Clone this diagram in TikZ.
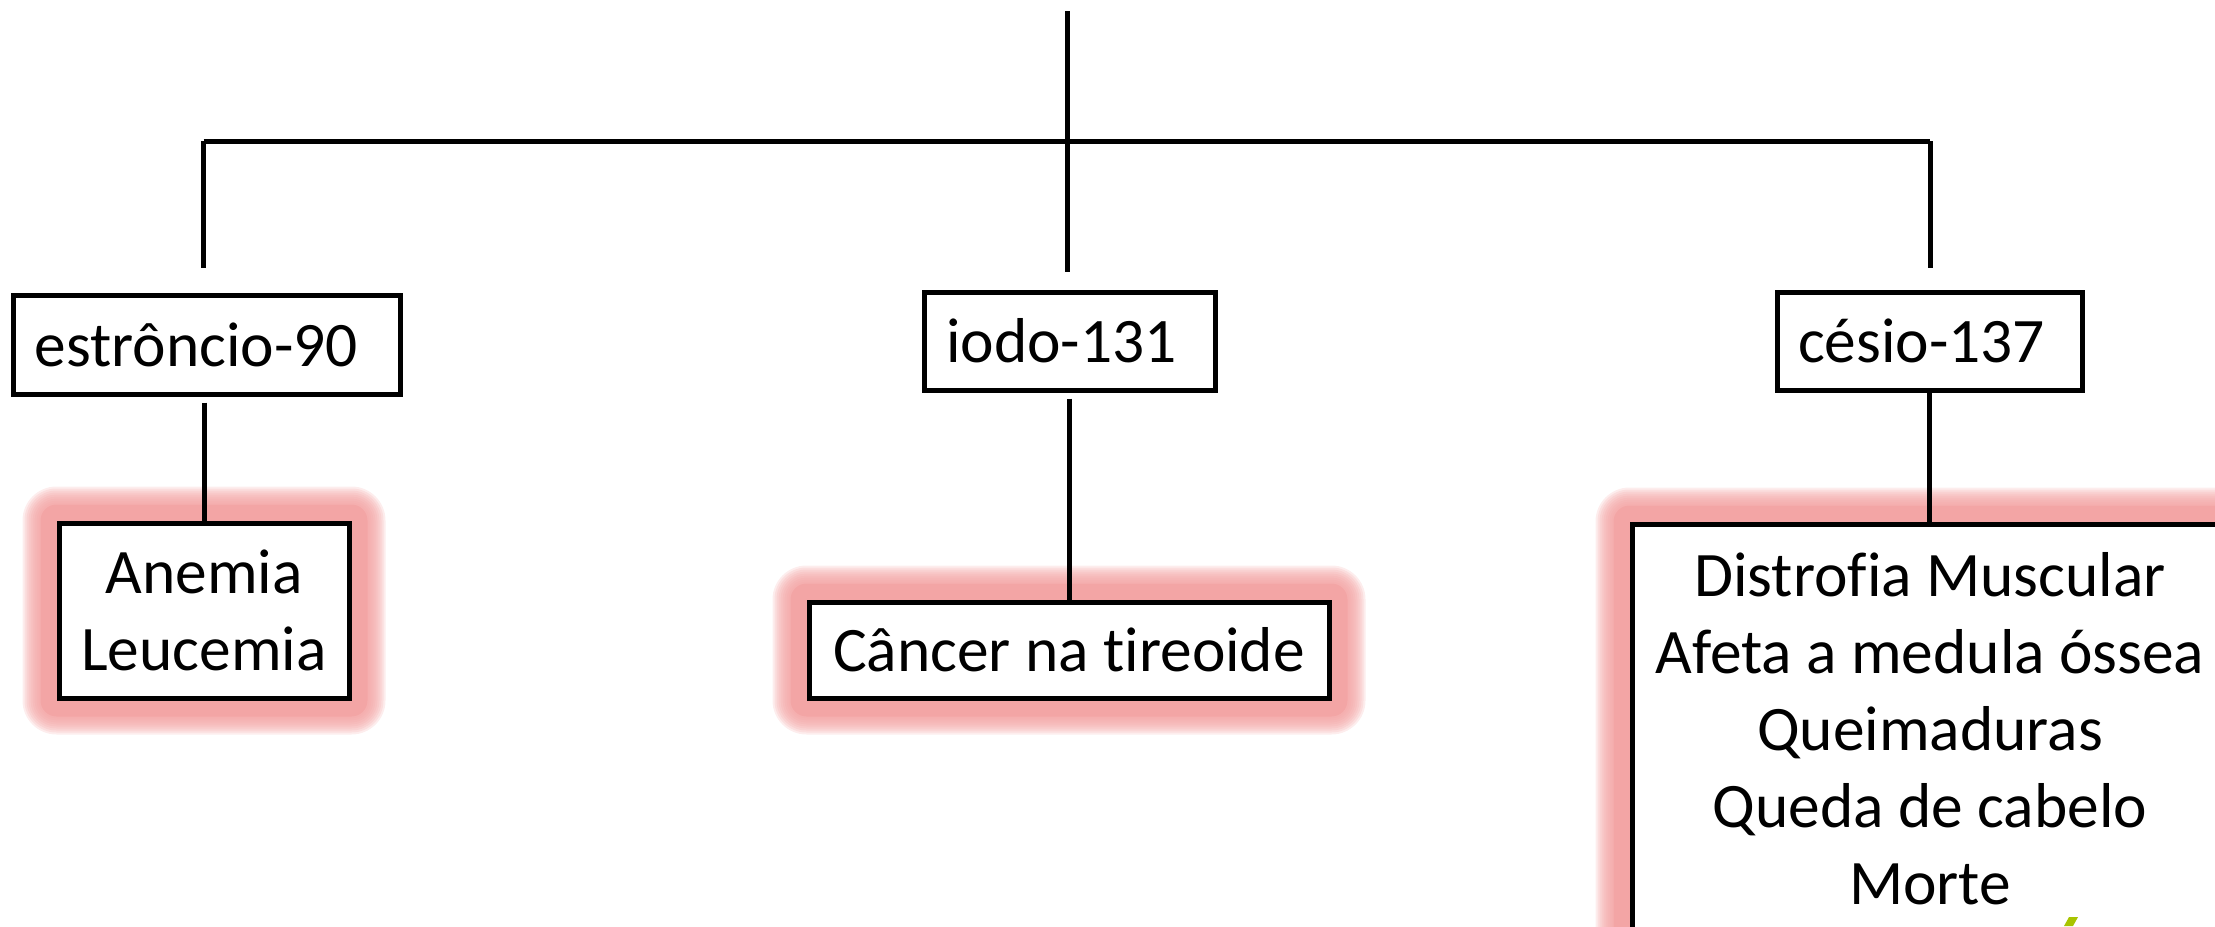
\documentclass[tikz,border=0pt]{standalone}
\usepackage{fontspec}
\setmainfont{Carlito}[Ligatures=NoCommon]
\definecolor{glowpink}{HTML}{F3A3A3}
\definecolor{limegreen}{HTML}{A8C400}
\pgfdeclarelayer{background}
\pgfsetlayers{background,main}
\tikzset{
  box/.style={draw=black, line width=2.5pt, fill=white, inner sep=0pt, align=center,
    font=\fontsize{31.7pt}{38.5pt}\selectfont},
  link/.style={draw=black, line width=2.5pt},
}
\newcommand\glowaround[1]{%
  \fill[glowpink, fill opacity=0.85, rounded corners=8pt]
      ([shift={(-16,-16)}]#1.north west) rectangle ([shift={(16,16)}]#1.south east);
  \foreach \gx in {18,20,...,34}{%
    \fill[glowpink, fill opacity=0.2, rounded corners={\gx*0.5pt}]
      ([shift={(-\gx,-\gx)}]#1.north west) rectangle ([shift={(\gx,\gx)}]#1.south east);
  }%
}
\begin{document}
\begin{tikzpicture}[x=0.5pt,y=-0.5pt]
\useasboundingbox (0,0) rectangle (2215,926);
% top tree
\coordinate (top) at (1067,11);
\coordinate (hl) at (203.5,141);
\coordinate (hr) at (1930,141);
\coordinate (dl) at (203.5,268);
\coordinate (dm) at (1067,272);
\coordinate (dr) at (1930,268);
\draw[link] (top) -- (dm);
\draw[link] (hl) -- (hr);
\draw[link] (hl) -- (dl);
\draw[link] (hr) -- (dr);
% boxes
\node[box, minimum width=387*0.5pt, minimum height=99*0.5pt] (est) at (206.5,344.5) {estrôncio-90\hspace{10pt}};
\node[box, minimum width=291*0.5pt, minimum height=98*0.5pt] (iodo) at (1069.5,341) {iodo-131\hspace{8pt}};
\node[box, minimum width=305*0.5pt, minimum height=98*0.5pt] (cesio) at (1929.5,341) {césio-137\hspace{8pt}};
\node[box, minimum width=290*0.5pt, minimum height=175*0.5pt] (anemia) at (204,610.5) {Anemia\\Leucemia};
\node[box, minimum width=520*0.5pt, minimum height=96*0.5pt] (cancer) at (1069,650) {Câncer na tireoide};
\node[box, minimum width=596*0.5pt, minimum height=410*0.5pt] (efeitos) at (1930,729) {Distrofia Muscular\\Afeta a medula óssea\\Queimaduras\\Queda de cabelo\\Morte};
% glows
\begin{pgfonlayer}{background}
\glowaround{anemia}
\glowaround{cancer}
\glowaround{efeitos}
\end{pgfonlayer}
% connectors
\draw[link] ([yshift=-3pt]est.south -| anemia.north) -- (anemia.north);
\draw[link] ([yshift=-3pt]iodo.south) -- (iodo.south |- cancer.north);
\draw[link] (cesio.south) -- (cesio.south |- efeitos.north);
% green fragment
\fill[limegreen] (2064,926) -- (2069,917) -- (2078,917) -- (2073,926) -- cycle;
\end{tikzpicture}
\end{document}
